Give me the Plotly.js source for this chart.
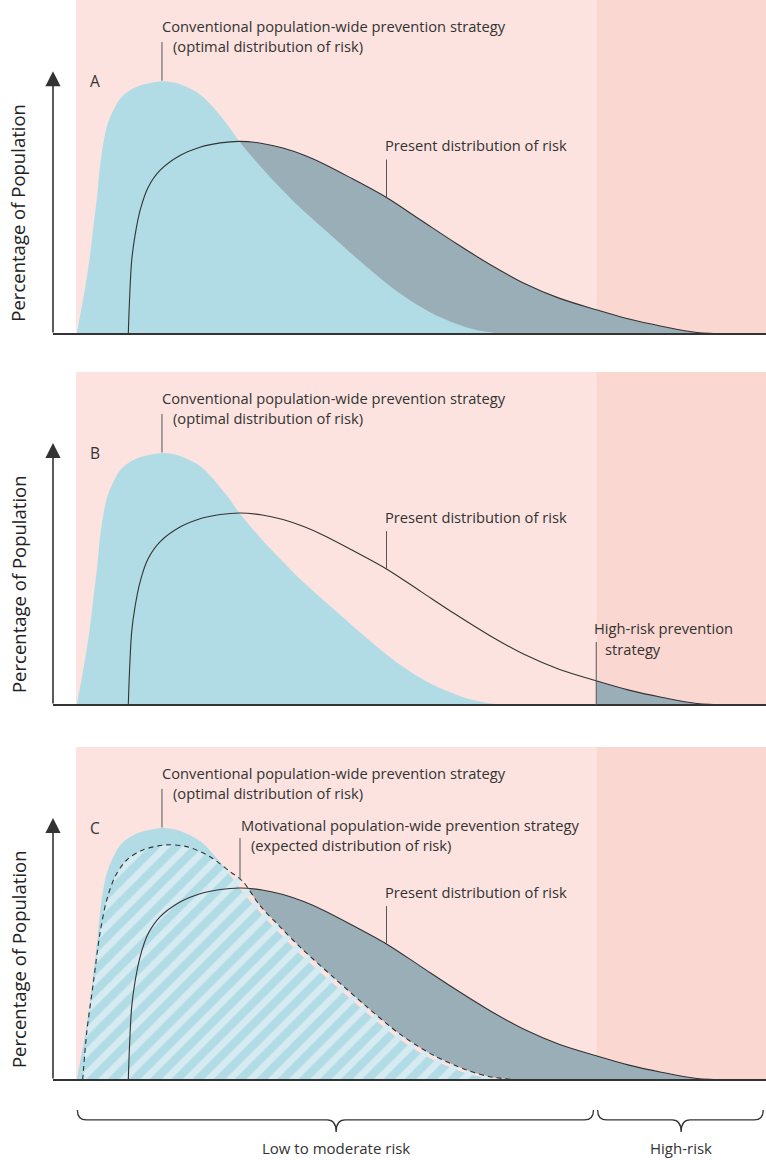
<!DOCTYPE html>
<html><head><meta charset="utf-8">
<script src="https://cdn.plot.ly/plotly-3.0.1.min.js"></script>
<style>html,body{margin:0;padding:0;background:#fff}</style>
</head><body><div id="chart" style="width:766px;height:1160px"></div>
<script>
// ---- data ----
const panelLetters = ['A', 'B', 'C'];
const riskBounds = [0, 75.4, 100];           // low/moderate | high-risk
const regionLabels = ['Low to moderate risk', 'High-risk'];

// conventional population-wide strategy (optimal distribution)
const optimalX = [0.1, 1.16, 1.93, 2.51, 3.09, 3.58, 4.45, 5.41, 6.62, 8.8, 12.4, 14.35, 16.04, 17.97, 19.42, 21.84, 23.77, 26.67, 29.57, 32.46, 37.25, 42.17, 46.96, 51.74, 56.67, 60.0, 63.6];
const optimalY = [0, 15.7, 29, 42.2, 55.4, 68.7, 81.9, 88.5, 93.8, 97.8, 100, 99.4, 97.7, 94.8, 91.1, 83.2, 75.9, 66.5, 58, 50, 38.3, 26.5, 16, 8, 2.6, 0.7, 0];

// present distribution of risk
const presentX = [7.58, 7.75, 8.07, 8.55, 9.28, 10.43, 12.17, 15.07, 17.97, 20.9, 23.8, 27, 30, 33, 36, 40, 45, 50, 55, 60, 65, 70, 75.4, 80, 85, 90, 95, 100];
const presentY = [0, 13, 29, 38.9, 48.8, 57.9, 64.7, 70.6, 73.9, 75.6, 76.2, 75.4, 73.6, 70.8, 67.2, 61.5, 54, 45, 36, 27.5, 20, 14.2, 9.6, 6.0, 3.0, 0.6, 0, 0];

// motivational population-wide strategy (expected distribution)
const expectedX = [0.97, 1.55, 2.51, 3.48, 4.45, 5.65, 7.35, 9.71, 13.14, 16.04, 19.42, 22.32, 24.2, 26.67, 29.57, 32.46, 37.25, 42.17, 46.96, 51.74, 56.67, 60.0, 64.0];
const expectedY = [0, 18.7, 38.5, 58.3, 71.4, 80.6, 87.3, 91.3, 93.3, 92.6, 88.6, 82.7, 78.7, 69.2, 60.8, 52.8, 40.9, 29, 18.2, 9.9, 3.9, 1.3, 0];

// ---- style ----
const FONT = 'Open Sans, Noto Sans, sans-serif';
const PINK = '#fce3df', PINK_DARK = '#fad7d1', BLUE = '#b1dce6', GREY = '#9aaeb8';
const STRIPE = '#d6eaf1', INK = '#333333';
const XMIN = -3.333, YTOP = 132.14;
const domains = [[0.69074, 1.0], [0.34722, 0.65556], [0, 0.30833]];
const TXT = 14.7;

const traces = [], shapes = [], annotations = [];
const layout = {
  width: 766, height: 1160,
  margin: {l: 53, r: 0, t: 0, b: 80, pad: 0},
  paper_bgcolor: '#ffffff', plot_bgcolor: 'rgba(0,0,0,0)',
  showlegend: false, hovermode: false,
  font: {family: FONT, color: INK}
};

function fillTrace(ax, ay, xs, ys, color) {
  return {x: xs, y: ys, xaxis: ax, yaxis: ay, type: 'scatter', mode: 'lines',
    line: {width: 0, shape: 'spline', smoothing: 0.9, color: color},
    fill: 'tozeroy', fillcolor: color, hoverinfo: 'skip'};
}
function lineTrace(ax, ay, xs, ys, dash) {
  return {x: xs, y: ys, xaxis: ax, yaxis: ay, type: 'scatter', mode: 'lines',
    line: {width: 1.1, shape: 'spline', smoothing: 0.9, color: INK, dash: dash || 'solid'},
    hoverinfo: 'skip'};
}
function label(xr, yr, x, y, text, extra) {
  return Object.assign({xref: xr, yref: yr, x: x, y: y, text: text, showarrow: false,
    xanchor: 'left', yanchor: 'middle', font: {family: FONT, size: TXT, color: INK}}, extra || {});
}
function leader(xr, yr, x, y0, y1) {
  return {type: 'line', xref: xr, yref: yr, x0: x, x1: x, y0: y0, y1: y1,
    line: {color: '#555', width: 1}, layer: 'above'};
}

panelLetters.forEach((letter, i) => {
  const n = i === 0 ? '' : String(i + 1);
  const ax = 'x' + n, ay = 'y' + n;
  layout['xaxis' + n] = {domain: [0, 1], range: [XMIN, 100], visible: false, anchor: ay, fixedrange: true};
  layout['yaxis' + n] = {domain: domains[i], range: [0, YTOP], visible: false, anchor: ax, fixedrange: true};

  // background regions
  shapes.push({type: 'rect', xref: ax, yref: ay + ' domain', x0: riskBounds[0], x1: riskBounds[1], y0: 0, y1: 1,
    fillcolor: PINK, line: {width: 0}, layer: 'below'});
  shapes.push({type: 'rect', xref: ax, yref: ay + ' domain', x0: riskBounds[1], x1: riskBounds[2], y0: 0, y1: 1,
    fillcolor: PINK_DARK, line: {width: 0}, layer: 'below'});

  if (letter === 'A') {
    traces.push(fillTrace(ax, ay, presentX, presentY, GREY));
    traces.push(fillTrace(ax, ay, optimalX, optimalY, BLUE));
    traces.push(lineTrace(ax, ay, presentX, presentY));
  } else if (letter === 'B') {
    traces.push(fillTrace(ax, ay, optimalX, optimalY, BLUE));
    const hx = [], hy = [];
    presentX.forEach((v, k) => { if (v >= riskBounds[1]) { hx.push(v); hy.push(presentY[k]); } });
    traces.push(fillTrace(ax, ay, hx, hy, GREY));
    traces.push(lineTrace(ax, ay, presentX, presentY));
  } else {
    traces.push(fillTrace(ax, ay, presentX, presentY, GREY));
    traces.push(fillTrace(ax, ay, expectedX, expectedY, PINK));
    traces.push(fillTrace(ax, ay, optimalX, optimalY, BLUE));
    const hatch = fillTrace(ax, ay, expectedX, expectedY, 'rgba(0,0,0,0)');
    hatch.fillpattern = {shape: '/', size: 15, solidity: 0.45, fgcolor: STRIPE, bgcolor: 'rgba(0,0,0,0)', fgopacity: 1};
    traces.push(hatch);
    traces.push(lineTrace(ax, ay, presentX, presentY));
    traces.push(lineTrace(ax, ay, expectedX, expectedY, '5px,4px'));
  }

  // baseline axis
  shapes.push({type: 'line', xref: ax, yref: ay + ' domain', x0: XMIN, x1: 100, y0: 0, y1: 0,
    line: {color: INK, width: 2}, layer: 'above'});
  // vertical axis arrow
  annotations.push({xref: ax, yref: ay, x: XMIN, y: 104, axref: ax, ayref: ay, ax: XMIN, ay: 0,
    text: '', showarrow: true, arrowhead: 2, arrowsize: 1.9, arrowwidth: 1.6, arrowcolor: INK, standoff: 0});
  // y title
  annotations.push({xref: 'paper', yref: ay, x: -0.0491, y: 48, text: 'Percentage of Population', showarrow: false,
    textangle: -90, xanchor: 'center', yanchor: 'middle', font: {family: FONT, size: 18.5, color: '#222'}});
  // panel letter
  annotations.push(label(ax, ay, 1.7, 100, letter, {font: {family: FONT, size: 15.5, color: INK}}));

  // conventional labels
  annotations.push(label(ax, ay, 12.2, 121.8, 'Conventional population-wide prevention strategy'));
  annotations.push(label(ax, ay, 13.8, 113.9, '(optimal distribution of risk)'));
  shapes.push(leader(ax, ay, 12.46, 115.5, 100.2));
  // present labels
  annotations.push(label(ax, ay, 44.5, 74.6, 'Present distribution of risk'));
  shapes.push(leader(ax, ay, 45.0, 69, 54));

  if (letter === 'B') {
    annotations.push(label(ax, ay, 74.8, 30.6, 'High-risk prevention'));
    annotations.push(label(ax, ay, 76.4, 22.2, 'strategy'));
    shapes.push(leader(ax, ay, riskBounds[1], 25, 0));
  }
  if (letter === 'C') {
    annotations.push(label(ax, ay, 23.6, 101.2, 'Motivational population-wide prevention strategy'));
    annotations.push(label(ax, ay, 25.1, 93.3, '(expected distribution of risk)'));
    shapes.push(leader(ax, ay, 23.77, 96, 79.6));
  }
});

// braces under panel C
const yTop = -0.0278, yMid = -0.037, yTip = -0.0481;
regionLabels.forEach((lab, k) => {
  const a = riskBounds[k] + 0.2, b = riskBounds[k + 1] - 0.4, m = (riskBounds[k] + riskBounds[k + 1]) / 2;
  const path = `M ${a},${yTop} Q ${a},${yMid} ${a + 1.3},${yMid} L ${m - 1.3},${yMid} Q ${m},${yMid} ${m},${yTip} ` +
               `Q ${m},${yMid} ${m + 1.3},${yMid} L ${b - 1.3},${yMid} Q ${b},${yMid} ${b},${yTop}`;
  shapes.push({type: 'path', xref: 'x3', yref: 'paper', path: path, line: {color: INK, width: 1.3}});
  annotations.push({xref: 'x3', yref: 'paper', x: m, y: -0.063, text: lab, showarrow: false,
    xanchor: 'center', yanchor: 'middle', font: {family: FONT, size: 15, color: INK}});
});

layout.shapes = shapes;
layout.annotations = annotations;
Plotly.newPlot('chart', traces, layout, {displayModeBar: false, staticPlot: true});
</script>
</body></html>
